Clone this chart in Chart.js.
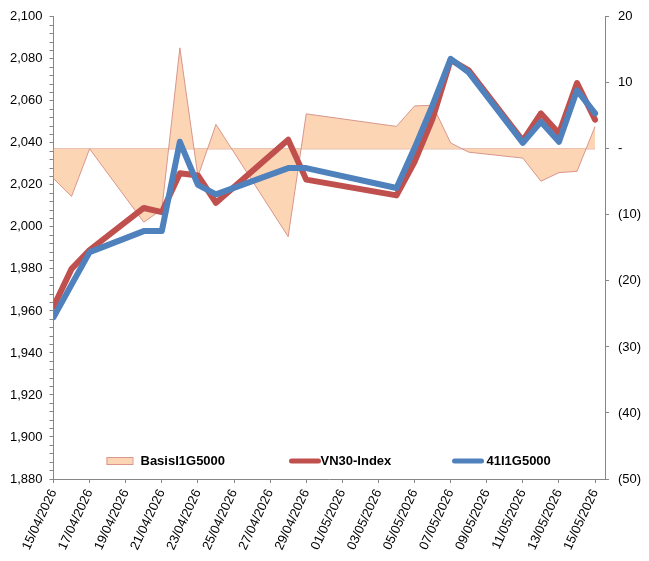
<!DOCTYPE html>
<html>
<head>
<meta charset="utf-8">
<script src="https://cdn.jsdelivr.net/npm/chart.js@4.4.1/dist/chart.umd.min.js"></script>
<style>
html,body{margin:0;padding:0;background:#fff;}
#wrap{width:649px;height:561px;}
</style>
</head>
<body>
<div id="wrap"><canvas id="c" width="649" height="561"></canvas></div>
<script>
// ---- data ----
const dates = ['15/04/2026','16/04/2026','17/04/2026','20/04/2026','21/04/2026','22/04/2026','23/04/2026','24/04/2026',
  '28/04/2026','29/04/2026','04/05/2026','05/05/2026','06/05/2026','07/05/2026','08/05/2026',
  '11/05/2026','12/05/2026','13/05/2026','14/05/2026','15/05/2026'];
const vn30Index = [1962, 1980, 1989, 2009, 2007, 2025.5, 2024.5, 2011.5, 2041.5, 2022.5,
  2015, 2031, 2051.5, 2079.5, 2074.5, 2041, 2054, 2044.5, 2068.5, 2051];
const f41I1G5000 = [1957, 1972.5, 1988, 1998, 1998, 2040.5, 2020, 2015.5, 2028, 2028,
  2018.5, 2037.5, 2058, 2080, 2073.5, 2040, 2050, 2040.5, 2065, 2054];
const basisI1G5000 = [-4.5, -7.2, 0, -11.1, -9.2, 15.3, -4.2, 3.7, -13.3, 5.3,
  3.4, 6.5, 6.6, 0.9, -0.5, -1.4, -4.9, -3.6, -3.4, 3.4];
const seriesNames = ['BasisI1G5000', 'VN30-Index', '41I1G5000'];
const leftTicks = {min: 1880, max: 2100, major: 20, minor: 4};
const rightTicks = {min: -50, max: 20, step: 10};
const xTickDays = [0,2,4,6,8,10,12,14,16,18,20,22,24,26,28,30];

// ---- helpers ----
function parseD(s){const p=s.split('/');return Date.UTC(+p[2],+p[1]-1,+p[0]);}
const t0 = parseD(dates[0]);
const dayIdx = dates.map(d => Math.round((parseD(d)-t0)/86400000));
function fmtDay(v){const d=new Date(t0+v*86400000);
  const dd=String(d.getUTCDate()).padStart(2,'0'), mm=String(d.getUTCMonth()+1).padStart(2,'0');
  return dd+'/'+mm+'/'+d.getUTCFullYear();}
const pts = arr => arr.map((v,i)=>({x:dayIdx[i], y:v}));

const FONT = "'Liberation Sans', Arial, sans-serif";
const AXIS = '#868686';
const C_RED = '#C0504D', C_BLUE = '#4F81BD', C_FILL = '#FCD5B5', C_FILLB = '#D9968C';

const baselinePlugin = {
  id:'baseline',
  beforeDatasetsDraw(chart){
    const meta = chart.getDatasetMeta(0);
    if(!meta.data.length) return;
    const y = chart.scales.y1.getPixelForValue(0);
    const ctx = chart.ctx; ctx.save();
    ctx.strokeStyle = C_FILLB; ctx.lineWidth = 1;
    ctx.beginPath(); ctx.moveTo(meta.data[0].x, y); ctx.lineTo(meta.data[meta.data.length-1].x, y); ctx.stroke();
    ctx.restore();
  }
};

const legendPlugin = {
  id:'inlegend',
  afterDraw(chart){
    const ctx = chart.ctx, ca = chart.chartArea;
    const y = ca.bottom - 18;
    const items = [
      {x: ca.left + 53, type:'area', color: C_FILL, border: C_FILLB, text: chart.data.datasets[0].label, tx: ca.left + 87},
      {x: ca.left + 236, type:'line', color: C_RED, text: chart.data.datasets[1].label, tx: ca.left + 267},
      {x: ca.left + 399, type:'line', color: C_BLUE, text: chart.data.datasets[2].label, tx: ca.left + 433}
    ];
    ctx.save();
    ctx.font = "bold 13px " + FONT;
    ctx.textBaseline = 'middle'; ctx.textAlign = 'left';
    items.forEach(it=>{
      if(it.type==='area'){
        ctx.fillStyle = it.color; ctx.fillRect(it.x, y-3.5, 26, 7);
        ctx.strokeStyle = it.border; ctx.lineWidth = 1; ctx.strokeRect(it.x+0.5, y-3.5, 26, 7);
      } else {
        ctx.strokeStyle = it.color; ctx.lineWidth = 5; ctx.lineCap='round';
        ctx.beginPath(); ctx.moveTo(it.x+2, y); ctx.lineTo(it.x+29, y); ctx.stroke();
      }
      ctx.fillStyle = '#000';
      ctx.fillText(it.text, it.tx, y+0.5);
    });
    ctx.restore();
  }
};

new Chart(document.getElementById('c'), {
  data: {
    datasets: [
      {type:'line', label: seriesNames[0], data: pts(basisI1G5000), yAxisID:'y1', order: 3,
       borderColor: C_FILLB, borderWidth: 1, backgroundColor: C_FILL, fill: 'origin',
       pointRadius: 0, tension: 0},
      {type:'line', label: seriesNames[1], data: pts(vn30Index), yAxisID:'y', order: 2,
       borderColor: C_RED, borderWidth: 6, pointRadius: 0, fill: false, tension: 0,
       borderJoinStyle:'round', borderCapStyle:'round'},
      {type:'line', label: seriesNames[2], data: pts(f41I1G5000), yAxisID:'y', order: 1,
       borderColor: C_BLUE, borderWidth: 6, pointRadius: 0, fill: false, tension: 0,
       borderJoinStyle:'round', borderCapStyle:'round'}
    ]
  },
  options: {
    responsive: false, animation: false, devicePixelRatio: 1,
    layout: {padding: {top: 15, left: 0, right: 0, bottom: 0}},
    plugins: {legend: {display: false}, tooltip: {enabled: false}},
    scales: {
      x: {
        type:'linear', min: 0, max: 30.55, position:'bottom',
        afterBuildTicks(s){ s.ticks = xTickDays.map(v=>({value:v})); },
        afterFit(s){ s.height = 82; },
        grid: {drawOnChartArea: false, drawTicks: true, tickLength: 4, color: AXIS},
        border: {display: true, color: AXIS, width: 1},
        ticks: {autoSkip: false, minRotation: 65, maxRotation: 65, padding: 4, color:'#000',
                font: {family: FONT, size: 13}, callback: v => fmtDay(v)}
      },
      y: {
        type:'linear', position:'left', min: leftTicks.min, max: leftTicks.max,
        afterFit(s){ s.width = 53.5; },
        grid: {drawOnChartArea: false, drawTicks: true, tickLength: 4, color: AXIS},
        border: {display: true, color: AXIS, width: 1},
        ticks: {stepSize: leftTicks.minor, autoSkip: false, padding: 7, color:'#000',
                font: {family: FONT, size: 13},
                callback: v => (v % leftTicks.major === 0) ? v.toLocaleString('en-US') : ''}
      },
      y1: {
        type:'linear', position:'right', min: rightTicks.min, max: rightTicks.max,
        afterFit(s){ s.width = 44; },
        grid: {drawOnChartArea: false, drawTicks: true, tickLength: 4, color: AXIS},
        border: {display: true, color: AXIS, width: 1},
        ticks: {stepSize: rightTicks.step, autoSkip: false, padding: 9, color:'#000',
                font: {family: FONT, size: 13},
                callback: v => v === 0 ? '-' : (v < 0 ? '(' + (-v) + ')' : String(v))}
      }
    }
  },
  plugins: [baselinePlugin, legendPlugin]
});
</script>
</body>
</html>
